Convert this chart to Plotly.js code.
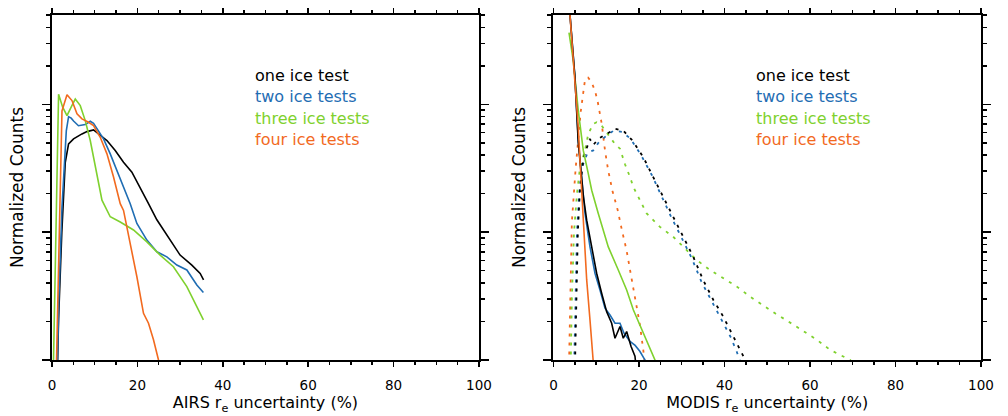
<!DOCTYPE html>
<html>
<head>
<meta charset="utf-8">
<script src="https://cdn.plot.ly/plotly-3.0.1.min.js"></script>
<style>html,body{margin:0;padding:0;background:#fff;}#chart{width:1008px;height:416px;}</style>
</head>
<body>
<div id="chart"></div>
<script>
// ---- Series names and colours ----
const seriesNames = ["one ice test", "two ice tests", "three ice tests", "four ice tests"];
const seriesColors = ["#000000", "#1f6db3", "#7fd12e", "#f26a1f"];

// ---- Left panel: AIRS r_e uncertainty (%) ----
const airsX_one = [1.1, 1.54, 2.3, 3.1, 3.88, 5.05, 7.02, 8.19, 9.73, 11.3, 12.87, 14.81, 16.75, 18.71, 20.65, 22.6, 24.56, 26.9, 30.0, 32.75, 34.7, 35.5];
const airsY_one = [0.5, 2.1, 10, 35, 49, 53.7, 58.7, 61.2, 63.1, 57.0, 52.1, 43.6, 35.3, 29.5, 22.5, 16.7, 12.5, 9.48, 6.62, 5.53, 4.76, 4.23];

const airsX_two = [1.1, 1.6, 2.34, 3.35, 3.88, 4.5, 5.05, 6.2, 7.79, 8.96, 9.73, 10.9, 12.07, 13.64, 15.2, 16.75, 18.32, 19.88, 22.22, 24.56, 26.9, 29.24, 31.58, 33.92, 35.46];
const airsY_two = [0.5, 3, 15.7, 62, 80, 78, 74, 68, 69.5, 73.7, 71.1, 62.4, 53.7, 41.0, 30.4, 22.5, 16.7, 11.7, 8.67, 7.02, 6.41, 5.53, 5.06, 3.86, 3.37];

const airsX_three = [0.3, 0.95, 1.54, 2.5, 3.51, 4.6, 5.45, 6.62, 7.79, 8.96, 10.13, 11.3, 11.7, 13.64, 15.98, 19.09, 22.22, 25.33, 28.44, 31.58, 33.92, 35.46];
const airsY_three = [0.8, 10.7, 120, 95, 81.7, 97, 110, 97.7, 74.6, 52.1, 32.3, 21.2, 17.8, 13.2, 12.0, 10.4, 8.40, 6.62, 5.37, 3.75, 2.62, 2.06];

const airsX_four = [1.0, 1.6, 2.34, 3.51, 4.68, 5.85, 7.02, 8.56, 9.73, 11.3, 12.87, 14.41, 15.98, 16.75, 18.32, 19.88, 21.43, 22.6, 23.77, 24.94, 25.2];
const airsY_four = [0.8, 7.2, 89, 119, 107, 84.2, 76.9, 72.4, 68.2, 55.3, 41.0, 27.0, 16.7, 14.8, 8.17, 4.48, 2.32, 1.94, 1.44, 1.0, 0.8];

// ---- Right panel: MODIS r_e uncertainty (%), solid lines ----
const modisX_one = [3.75, 5.0, 5.8, 6.6, 7.0, 7.77, 8.94, 10.1, 11.27, 12.44, 13.61, 14.39, 15.56, 16.33, 17.12, 18.13, 19.06, 19.3];
const modisY_one = [560, 165, 50, 25, 19, 12.4, 7.67, 4.77, 3.33, 2.39, 1.94, 1.48, 1.83, 1.48, 1.67, 1.28, 1.07, 0.9];

const modisX_two = [3.75, 5.0, 5.8, 6.6, 7.37, 8.54, 9.71, 10.88, 12.05, 13.22, 14.39, 15.56, 16.5, 17.9, 19.1, 20.2, 21.4, 21.7];
const modisY_two = [560, 168, 53, 27, 14, 7.67, 4.77, 3.53, 2.54, 2.25, 1.94, 1.94, 1.62, 1.40, 1.30, 1.17, 1.0, 0.9];

const modisX_three = [3.63, 4.63, 5.80, 6.97, 8.14, 8.94, 10.48, 12.82, 15.16, 17.12, 18.67, 21.0, 23.74, 24.0];
const modisY_three = [364, 219, 89.3, 43.6, 28.7, 21.3, 14.0, 7.67, 5.06, 3.53, 2.47, 1.62, 1.0, 0.9];

const modisX_four = [3.75, 5.03, 5.8, 6.2, 6.6, 6.97, 7.77, 8.54, 9.31, 9.5];
const modisY_four = [560, 162, 66, 36.4, 21.3, 10.4, 4.23, 2.06, 1.0, 0.8];

// ---- Right panel: dotted lines ----
const dotX_one = [5.0, 5.3, 5.7, 6.2, 7.0, 8.5, 9.3, 10.5, 12.4, 14.4, 16.3, 18.5, 21.0, 23.35, 25.7, 28.0, 30.4, 32.7, 35.0, 37.4, 39.7, 42.1, 44.0, 45.2];
const dotY_one = [0.8, 3, 10, 22, 38, 53.7, 48, 53.7, 58.8, 64.3, 62.4, 52, 38.6, 27.0, 18.8, 13.2, 9.19, 6.42, 4.23, 2.95, 2.19, 1.53, 1.13, 0.95];

const dotX_two = [4.8, 5.1, 5.5, 6.0, 6.8, 8.0, 9.3, 10.5, 12.4, 14.0, 16.0, 18.0, 20.5, 23.0, 25.3, 27.6, 30.0, 32.3, 34.6, 37.0, 39.3, 41.5, 43.0, 43.8];
const dotY_two = [0.8, 3, 10, 20, 33, 42, 43.6, 50, 57, 62, 61, 54, 40, 28, 19, 13, 9, 6.3, 4.1, 2.9, 2.1, 1.5, 1.13, 0.95];

const dotX_three = [4.0, 4.3, 4.8, 5.5, 6.2, 7.37, 8.14, 9.31, 10.1, 11.27, 13.22, 14.39, 15.56, 16.73, 17.9, 18.7, 21.8, 24.9, 28.0, 31.2, 33.5, 36.6, 39.7, 42.9, 46.0, 48.3, 52.0, 56.0, 61.6, 64.7, 69.4, 70.0];
const dotY_three = [0.8, 3, 10, 20, 32, 43.6, 58.8, 70.3, 72.4, 68.2, 55.3, 49, 45, 34, 27, 22.5, 14.0, 11.0, 9.2, 7.2, 6.05, 5.06, 4.36, 3.75, 3.13, 2.78, 2.3, 1.9, 1.44, 1.2, 1.0, 0.95];

const dotX_four = [3.6, 3.9, 4.3, 5.2, 6.4, 7.4, 8.1, 8.9, 9.7, 10.3, 10.7, 11.3, 12.05, 12.8, 13.8, 15.0, 16.0, 17.1, 18.7, 20.2, 21.0, 21.6];
const dotY_four = [0.8, 3, 12, 32, 89, 158, 162, 149, 128, 107, 89, 70, 43.6, 30.4, 21, 15, 10.4, 7.2, 3.6, 1.9, 1.2, 0.8];

// ---- Axis texts ----
const xTitleLeft = "AIRS r<sub>e</sub> uncertainty (%)";
const xTitleRight = "MODIS r<sub>e</sub> uncertainty (%)";
const yTitle = "Normalized Counts";
const yMax = 500;

const FONT = "DejaVu Sans, Liberation Sans, sans-serif";

function solid(x, y, i, xa, ya) {
  return {x: x, y: y, xaxis: xa, yaxis: ya, type: "scatter", mode: "lines",
    name: seriesNames[i], line: {color: seriesColors[i], width: 1.6}, showlegend: false, hoverinfo: "skip"};
}
function dotted(x, y, i, xa, ya) {
  return {x: x, y: y, xaxis: xa, yaxis: ya, type: "scatter", mode: "lines",
    name: seriesNames[i] + " (dotted)", line: {color: seriesColors[i], width: 1.8, dash: "3px,6px"}, showlegend: false, hoverinfo: "skip"};
}

const traces = [
  solid(airsX_one, airsY_one, 0, "x", "y"),
  solid(airsX_two, airsY_two, 1, "x", "y"),
  solid(airsX_three, airsY_three, 2, "x", "y"),
  solid(airsX_four, airsY_four, 3, "x", "y"),
  dotted(dotX_four, dotY_four, 3, "x2", "y2"),
  dotted(dotX_three, dotY_three, 2, "x2", "y2"),
  dotted(dotX_two, dotY_two, 1, "x2", "y2"),
  dotted(dotX_one, dotY_one, 0, "x2", "y2"),
  solid(modisX_three, modisY_three, 2, "x2", "y2"),
  solid(modisX_two, modisY_two, 1, "x2", "y2"),
  solid(modisX_one, modisY_one, 0, "x2", "y2"),
  solid(modisX_four, modisY_four, 3, "x2", "y2")
];

function xAxis(domain, title, anchor) {
  return {
    domain: domain, anchor: anchor, range: [0, 100], tick0: 0, dtick: 20,
    ticks: "outside", ticklen: 5, tickwidth: 1.5, tickcolor: "#000",
    showline: true, linewidth: 2, linecolor: "#000", mirror: "ticks",
    showgrid: false, zeroline: false, automargin: false,
    minor: {dtick: 5, ticks: "outside", ticklen: 3, tickwidth: 1.5, tickcolor: "#000", showgrid: false},
    tickfont: {family: FONT, size: 13.5, color: "#000"}, ticklabelstandoff: 7,
    title: {text: title, font: {family: FONT, size: 16, color: "#000"}, standoff: 5}
  };
}
function yAxis(anchor) {
  return {
    anchor: anchor, type: "log", range: [0, Math.log10(yMax)], dtick: 1,
    showticklabels: false, ticks: "outside", ticklen: 8, tickwidth: 1.5, tickcolor: "#000",
    showline: true, linewidth: 2, linecolor: "#000", mirror: "ticks",
    showgrid: false, zeroline: false, automargin: false,
    minor: {dtick: "D1", ticks: "outside", ticklen: 4, tickwidth: 1.5, tickcolor: "#000", showgrid: false},
    title: {text: yTitle, font: {family: FONT, size: 17, color: "#000"}, standoff: 14}
  };
}

const legendRowsY = [0.826, 0.763, 0.701, 0.638];
const annotations = [];
[0.216, 0.7557].forEach(function (xp) {
  seriesNames.forEach(function (n, i) {
    annotations.push({xref: "paper", yref: "paper", x: xp, y: legendRowsY[i], xanchor: "left", yanchor: "middle",
      text: n, showarrow: false, font: {family: FONT, size: 16, color: seriesColors[i]}});
  });
});

const layout = {
  width: 1008, height: 416,
  margin: {l: 52, r: 27, t: 15, b: 56},
  paper_bgcolor: "#fff", plot_bgcolor: "#fff",
  showlegend: false,
  font: {family: FONT, color: "#000"},
  xaxis: xAxis([0, 0.4596], xTitleLeft, "y"),
  yaxis: yAxis("x"),
  xaxis2: xAxis([0.5398, 1], xTitleRight, "y2"),
  yaxis2: yAxis("x2"),
  annotations: annotations
};

Plotly.newPlot("chart", traces, layout, {staticPlot: true, displayModeBar: false});
</script>
</body>
</html>
